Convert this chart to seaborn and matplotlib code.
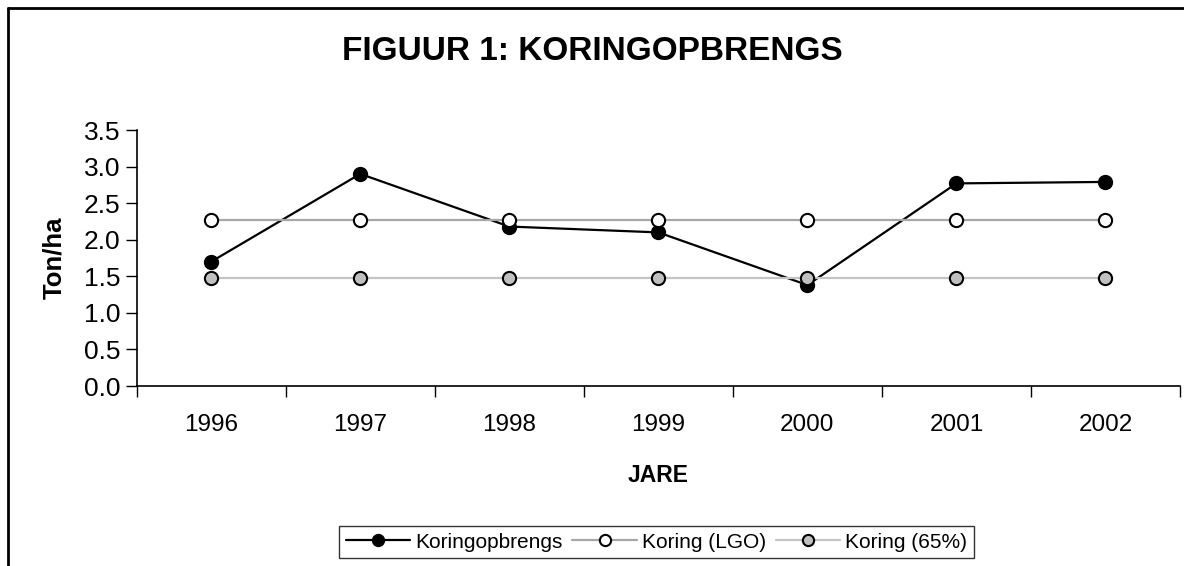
import matplotlib
matplotlib.use("Agg")
import matplotlib.pyplot as plt
import matplotlib.lines as mlines
import numpy as np
import pandas as pd
import seaborn as sns

years = ["1996", "1997", "1998", "1999", "2000", "2001", "2002"]
koringopbrengs = [1.70, 2.90, 2.18, 2.10, 1.38, 2.77, 2.79]
koring_lgo = [2.27, 2.27, 2.27, 2.27, 2.27, 2.27, 2.27]
koring_65 = [1.48, 1.48, 1.48, 1.48, 1.48, 1.48, 1.48]
series_names = ["Koringopbrengs", "Koring (LGO)", "Koring (65%)"]

sns.set_theme(style="white")
plt.rcParams['font.family'] = ['Liberation Sans', 'DejaVu Sans']
plt.rcParams['text.color'] = 'black'
plt.rcParams['axes.labelcolor'] = 'black'
plt.rcParams['xtick.color'] = 'black'
plt.rcParams['ytick.color'] = 'black'

fig = plt.figure(figsize=(11.84, 5.66), dpi=100)
ax = fig.add_axes([136.7 / 1184, 1 - 386 / 566, (1180 - 136.7) / 1184, 256 / 566])

pos = np.arange(len(years))
df = pd.DataFrame({"pos": pos, "a": koringopbrengs, "b": koring_lgo, "c": koring_65})

styles = [
    dict(color="black", lw=1.6, mfc="black", mec="black", ms=9.5, z=3),
    dict(color="#a6a6a6", lw=1.6, mfc="white", mec="black", ms=9.5, z=4),
    dict(color="#c4c4c4", lw=1.6, mfc="#c0c0c0", mec="black", ms=9.5, z=4),
]
for col, name, st in zip(["a", "b", "c"], series_names, styles):
    sns.lineplot(data=df, x="pos", y=col, ax=ax, color=st["color"], linewidth=st["lw"],
                 marker="o", markersize=st["ms"], markerfacecolor=st["mfc"],
                 markeredgecolor=st["mec"], markeredgewidth=1.5, zorder=st["z"],
                 label=name, legend=False)

ax.set_xlim(-0.5, len(years) - 0.5)
ax.set_ylim(0, 3.5)
ax.set_yticks(np.arange(0, 3.51, 0.5))
ax.set_yticklabels([f"{v:.1f}" for v in np.arange(0, 3.51, 0.5)], fontsize=19)
ax.set_xticks(np.arange(-0.5, len(years), 1.0))
ax.set_xticklabels([])
ax.set_xticks(pos, minor=True)
ax.set_xticklabels(years, minor=True, fontsize=17.5)
ax.tick_params(axis="x", which="major", direction="out", length=8, width=1, color="black", bottom=True)
ax.tick_params(axis="x", which="minor", length=0, pad=20, bottom=True)
ax.tick_params(axis="y", direction="out", length=8, width=1, color="black", left=True, pad=4)

for s in ["top", "right"]:
    ax.spines[s].set_visible(False)
for s in ["left", "bottom"]:
    ax.spines[s].set_color("black")
    ax.spines[s].set_linewidth(1.2)

ax.set_xlabel("JARE", fontsize=16.5, fontweight="bold", labelpad=20, color="black")
ax.set_ylabel("Ton/ha", fontsize=18.5, fontweight="bold", labelpad=12, color="black")

fig.text(592 / 1184, 1 - 51 / 566, "FIGUUR 1: KORINGOPBRENGS", ha="center", va="center",
         fontsize=24, fontweight="bold", color="black")

handles = []
for name, st in zip(series_names, styles):
    handles.append(mlines.Line2D([], [], color=st["color"], lw=st["lw"], marker="o",
                                 markersize=st["ms"] * 0.85, markerfacecolor=st["mfc"],
                                 markeredgecolor=st["mec"], markeredgewidth=1.5))
leg = fig.legend(handles=handles, labels=series_names, loc="center",
                 bbox_to_anchor=(656.5 / 1184, 1 - 542 / 566), ncol=3, fontsize=15,
                 frameon=True, fancybox=False, edgecolor="black", handlelength=3.1,
                 handletextpad=0.25, columnspacing=0.45, borderpad=0.3, borderaxespad=0)
leg.get_frame().set_linewidth(1.0)
for t in leg.get_texts():
    t.set_color("black")

# outer chart border (top and left visible)
fig.add_artist(mlines.Line2D([8 / 1184, 8 / 1184], [0, 1 - 8 / 566], transform=fig.transFigure,
                             color="black", lw=2))
fig.add_artist(mlines.Line2D([8 / 1184, 1], [1 - 8 / 566, 1 - 8 / 566], transform=fig.transFigure,
                             color="black", lw=2))

fig.savefig("out.png", dpi=100)
